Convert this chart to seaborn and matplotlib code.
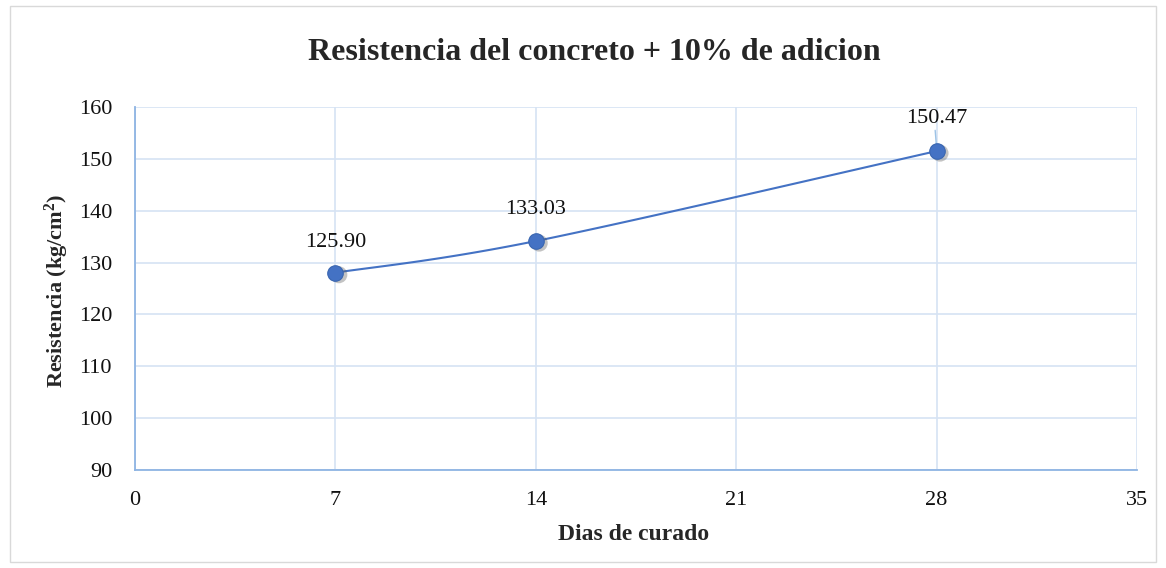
import numpy as np
import matplotlib
matplotlib.use("Agg")
import matplotlib.pyplot as plt
import seaborn as sns
import pandas as pd

# Data
dias = [7, 14, 28]
resistencia = [128.05, 134.15, 151.5]
etiquetas = ["125.90", "133.03", "150.47"]
x_ticks = [0, 7, 14, 21, 28, 35]
y_ticks = [90, 100, 110, 120, 130, 140, 150, 160]
titulo = "Resistencia del concreto + 10% de adicion"
x_label = "Dias de curado"
y_label = "Resistencia (kg/cm$^{2}$)"

sns.set_theme(style="white")
plt.rcParams['font.family'] = ['Liberation Serif', 'DejaVu Serif']
plt.rcParams['mathtext.fontset'] = 'custom'
plt.rcParams['mathtext.rm'] = 'Liberation Serif:bold'
plt.rcParams['mathtext.it'] = 'Liberation Serif:bold'
plt.rcParams['mathtext.bf'] = 'Liberation Serif:bold'

fig = plt.figure(figsize=(11.66, 5.68), dpi=100)
ax = fig.add_axes([135/1166, 1-470/568, (1137-135)/1166, (470-107)/568])

df = pd.DataFrame({"dias": dias, "res": resistencia})

# smooth curve (Catmull-Rom through the data points, rendering only)
def catmull(xs, ys, n=60):
    px = [xs[0]] + list(xs) + [xs[-1]]
    py = [ys[0]] + list(ys) + [ys[-1]]
    ox, oy = [], []
    for i in range(1, len(px) - 2):
        p0, p1, p2, p3 = [np.array([px[j], py[j]]) for j in range(i - 1, i + 3)]
        t = np.linspace(0, 1, n)[:, None]
        pts = 0.5 * ((2 * p1) + (-p0 + p2) * t + (2 * p0 - 5 * p1 + 4 * p2 - p3) * t**2 + (-p0 + 3 * p1 - 3 * p2 + p3) * t**3)
        ox.extend(pts[:, 0]); oy.extend(pts[:, 1])
    return np.array(ox), np.array(oy)

cx, cy = catmull(dias, resistencia)
sns.lineplot(x=cx, y=cy, ax=ax, color="#4472C4", linewidth=1.5, sort=False, zorder=3)
# shadow
ax.scatter(np.array(dias) + 0.12, np.array(resistencia) - 0.4, s=150, color="#555555", alpha=0.35, zorder=3, edgecolors="none")
sns.scatterplot(data=df, x="dias", y="res", ax=ax, s=125, color="#4472C4", edgecolor="#3A66B0", linewidth=0.8, zorder=4)

offsets = [5.8, 6.0, 6.3]
for x, y, lab, off in zip(dias, resistencia, etiquetas, offsets):
    ax.text(x, y + off, lab, ha="center", va="center", fontsize=16, color="#111111", zorder=5)
# leader line for last label
ax.plot([dias[2] - 0.05, dias[2]], [resistencia[2] + 4.0, resistencia[2] + 0.6], color="#9DC3E6", linewidth=1.0, zorder=3)

ax.set_xlim(0, 35)
ax.set_ylim(90, 160)
ax.set_xticks(x_ticks)
ax.set_yticks(y_ticks)
ax.tick_params(axis="y", labelsize=16, length=0, pad=16.5, colors="#111111")
ax.tick_params(axis="x", labelsize=16, length=0, pad=15, colors="#111111")
ax.grid(True, color="#D6E3F3", linewidth=1.2)
ax.set_axisbelow(True)
for s in ["top", "right"]:
    ax.spines[s].set_visible(False)
for s in ["left", "bottom"]:
    ax.spines[s].set_color("#8EB4E3")
    ax.spines[s].set_linewidth(1.3)

ax.set_xlabel(x_label, fontsize=17, fontweight="bold")
ax.set_ylabel(y_label, fontsize=16, fontweight="bold")
ax.xaxis.set_label_coords(0.5 + (634 - 636) / 1002, (470 - 524) / 363)
ax.yaxis.set_label_coords((71 - 135) / 1002, 0.5 + (288.5 - 291) / 363)
fig.text(594/1166, 1-53/568, titulo, ha="center", va="center", fontsize=23, fontweight="bold")

# outer chart border
fig.patches.append(plt.Rectangle((10/1166, 6/568), 1146/1166, 556/568, transform=fig.transFigure,
                                 fill=False, edgecolor="#D9D9D9", linewidth=1.0))

fig.savefig("out.png", dpi=100)
